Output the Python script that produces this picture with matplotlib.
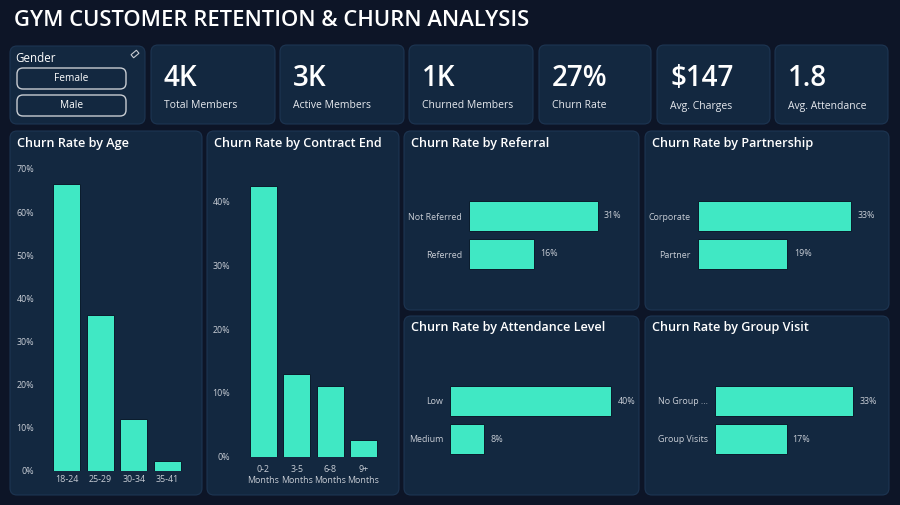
import matplotlib.pyplot as plt
from matplotlib.patches import FancyBboxPatch, Rectangle
from matplotlib.ticker import PercentFormatter
import matplotlib.transforms as mtransforms

plt.rcParams['font.family'] = ['Open Sans', 'DejaVu Sans']

# KPI cards
kpi_values = ['4K', '3K', '1K', '27%', '$147', '1.8']
kpi_labels = ['Total Members', 'Active Members', 'Churned Members', 'Churn Rate', 'Avg. Charges', 'Avg. Attendance']
genders = ['Female', 'Male']

# churn rates (%)
age_groups = ['18-24', '25-29', '30-34', '35-41']
age_churn = [66.6, 36.2, 12.1, 2.3]
contract_end = ['0-2\nMonths', '3-5\nMonths', '6-8\nMonths', '9+\nMonths']
contract_churn = [42.5, 13.0, 11.1, 2.6]
referral = ['Not Referred', 'Referred']
referral_churn = [31.2, 15.8]
partnership = ['Corporate', 'Partner']
partnership_churn = [32.8, 19.2]
attendance = ['Low', 'Medium']
attendance_churn = [39.9, 8.4]
group_visit = ['No Group ...', 'Group Visits']
group_churn = [33.2, 17.2]

BG = '#0d1527'
PANEL = '#132840'
EDGE = '#1d3552'
BAR = '#40e8c4'
TICK = '#c8cdd5'
W, H = 900, 505

fig = plt.figure(figsize=(9, 5.05), dpi=100, facecolor=BG)
bg = fig.add_axes([0, 0, 1, 1], zorder=0)
bg.set_xlim(0, W)
bg.set_ylim(H, 0)
bg.axis('off')


def panel(x0, y0, x1, y1):
    bg.add_patch(FancyBboxPatch((x0, y0), x1 - x0, y1 - y0,
                                boxstyle='round,pad=0,rounding_size=7',
                                fc=PANEL, ec=EDGE, lw=0.8))


def px_axes(x0, y0, x1, y1):
    ax = fig.add_axes([x0 / W, 1 - y1 / H, (x1 - x0) / W, (y1 - y0) / H], zorder=2)
    ax.set_facecolor('none')
    for s in ax.spines.values():
        s.set_visible(False)
    ax.tick_params(length=0, colors=TICK, labelsize=6.4)
    return ax


bg.text(14, 21, 'GYM CUSTOMER RETENTION & CHURN ANALYSIS', color='white',
        fontsize=15.8, fontweight='semibold', va='center', ha='left')

# gender slicer
panel(10, 46, 145, 124)
bg.text(15, 59, 'Gender', color='white', fontsize=8.3, va='center')
for i, g in enumerate(genders):
    y = 68 + i * 27
    bg.add_patch(FancyBboxPatch((17, y), 109, 21, boxstyle='round,pad=0,rounding_size=6',
                                fc=PANEL, ec='#c8ccd2', lw=1.0))
    bg.text(71.5, y + 10.5, g, color='white', fontsize=7.3, ha='center', va='center')
# eraser icon
rot = mtransforms.Affine2D().rotate_deg_around(135, 54, -40) + bg.transData
bg.add_patch(Rectangle((131.5, 52), 7, 4, fc='none', ec='#c8ccd2', lw=0.8, transform=rot))

# KPI cards
kpi_x = [(151, 275), (280, 404), (409, 533), (539, 651), (657, 770), (775, 888)]
for (x0, x1), v, lab in zip(kpi_x, kpi_values, kpi_labels):
    panel(x0, 45, x1, 124)
    bg.text(x0 + 13, 78, v, color='white', fontsize=20, fontweight='semibold',
            va='center', ha='left')
    bg.text(x0 + 13, 106, lab, color='#e6e9ee', fontsize=7.5, va='center', ha='left')

# chart panels
panels = [(10, 131, 202, 495, 'Churn Rate by Age'),
          (207, 131, 399, 495, 'Churn Rate by Contract End'),
          (404, 131, 639, 310, 'Churn Rate by Referral'),
          (645, 131, 889, 310, 'Churn Rate by Partnership'),
          (404, 316, 639, 495, 'Churn Rate by Attendance Level'),
          (645, 316, 889, 495, 'Churn Rate by Group Visit')]
for x0, y0, x1, y1, t in panels:
    panel(x0, y0, x1, y1)
    bg.text(x0 + 7, y0 + 12, t, color='white', fontsize=9.1, fontweight='semibold',
            va='center', ha='left')

# vertical bar charts
ax = px_axes(49.7, 169, 184.3, 471)
ax.bar(age_groups, age_churn, width=0.8, color=BAR, edgecolor='#0b1a2c', lw=0.7)
ax.set_xlim(-0.5, 3.5)
ax.set_ylim(0, 70)
ax.set_yticks(range(0, 71, 10))
ax.yaxis.set_major_formatter(PercentFormatter(decimals=0))
ax.tick_params(axis='y', pad=11)
ax.tick_params(axis='x', pad=3)

ax = px_axes(246.8, 169.8, 380.2, 456.7)
ax.bar(contract_end, contract_churn, width=0.81, color=BAR, edgecolor='#0b1a2c', lw=0.7)
ax.set_xlim(-0.5, 3.5)
ax.set_ylim(0, 45)
ax.set_yticks(range(0, 41, 10))
ax.yaxis.set_major_formatter(PercentFormatter(decimals=0))
ax.tick_params(axis='y', pad=12)
ax.tick_params(axis='x', pad=6)
for lab in ax.get_xticklabels():
    lab.set_linespacing(1.3)

# horizontal bar charts
hbars = [(469, 197, 164.8, 40, referral, referral_churn),
         (697.7, 197, 186.8, 40, partnership, partnership_churn),
         (450, 382, 181.6, 45, attendance, attendance_churn),
         (715, 382, 166.8, 40, group_visit, group_churn)]
for x0, y0, wpx, xmax, cats, vals in hbars:
    ax = px_axes(x0, y0, x0 + wpx, y0 + 76)
    ax.barh(cats, vals, height=0.78, color=BAR, edgecolor='#0b1a2c', lw=0.7)
    ax.set_xlim(0, xmax)
    ax.set_ylim(1.5, -0.5)
    ax.set_xticks([])
    ax.tick_params(axis='y', pad=5)
    for i, v in enumerate(vals):
        ax.text(v + xmax * 0.035, i, f'{v:.0f}%', color=TICK, fontsize=6.4,
                va='center', ha='left')

fig.savefig('out.png', dpi=100, facecolor=BG)
